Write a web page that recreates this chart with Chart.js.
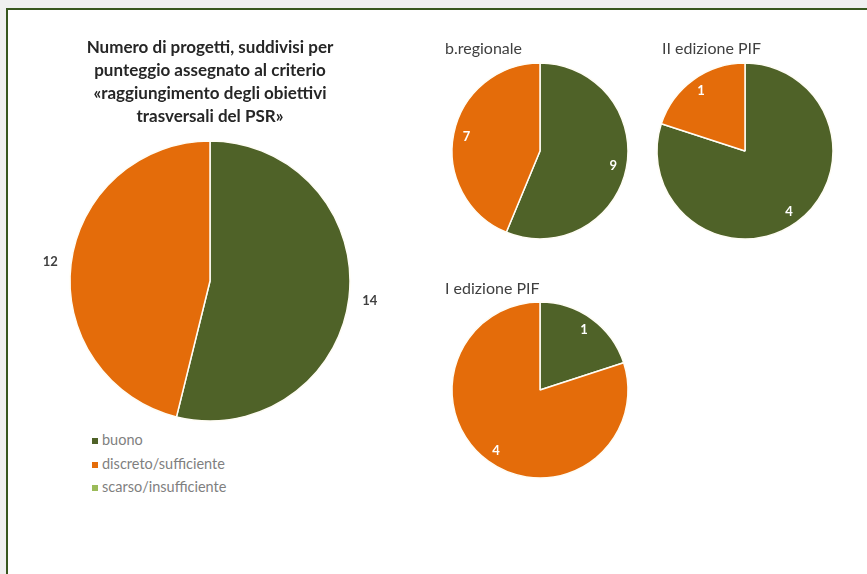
<!DOCTYPE html>
<html lang="it">
<head>
<meta charset="utf-8">
<title>Punteggio criterio obiettivi trasversali PSR</title>
<script src="https://cdn.jsdelivr.net/npm/chart.js@4.4.1/dist/chart.umd.min.js"></script>
<style>
  html, body { margin: 0; padding: 0; width: 867px; height: 574px; overflow: hidden; background: #f0f0f0; }
  #frame {
    position: absolute; left: 6px; top: 8px; right: 0; bottom: 0;
    background: #ffffff;
    border-left: 2px solid #38571f; border-top: 2px solid #38571f;
  }
  .box { position: absolute; }
  #legend {
    position: absolute; left: 92px; top: 430px;
    font-family: Lato, "Open Sans", sans-serif; font-size: 14.5px; color: #7f7f7f;
  }
  #legend .item { height: 23.5px; line-height: 20px; white-space: nowrap; }
  #legend .sw { display: inline-block; width: 6px; height: 6px; margin-right: 4px; vertical-align: 1px; }
</style>
</head>
<body>
<div id="frame"></div>
<div class="box" style="left:40px; top:30px; width:340px; height:394px;"><canvas id="cMain"></canvas></div>
<div class="box" style="left:420px; top:34px; width:240px; height:209px;"><canvas id="cReg"></canvas></div>
<div class="box" style="left:640px; top:34px; width:220px; height:209px;"><canvas id="cPif2"></canvas></div>
<div class="box" style="left:420px; top:274px; width:240px; height:207px;"><canvas id="cPif1"></canvas></div>
<div id="legend"></div>
<script>
// Score classes and their colours
const categories = ['buono', 'discreto/sufficiente', 'scarso/insufficiente'];
const colors = ['#4f6228', '#e46c0a', '#9bbb59'];

// Number of projects per score class
const totale = [14, 12, 0];
const bandoRegionale = [9, 7, 0];
const pif2 = [4, 1, 0];
const pif1 = [1, 4, 0];

const mainTitle = [
  'Numero di progetti, suddivisi per',
  'punteggio assegnato al criterio',
  '\u00abraggiungimento degli obiettivi',
  'trasversali del PSR\u00bb'
];

const FONT = 'Lato, "Open Sans", sans-serif';

// Draws each slice's value, either inside the slice or just outside its edge
const valueLabels = {
  id: 'valueLabels',
  afterDatasetsDraw(chart, args, opts) {
    const ctx = chart.ctx;
    const meta = chart.getDatasetMeta(0);
    const data = chart.data.datasets[0].data;
    ctx.save();
    ctx.font = 'bold 13px ' + FONT;
    ctx.fillStyle = opts.color;
    ctx.textAlign = 'center';
    ctx.textBaseline = 'middle';
    meta.data.forEach((arc, i) => {
      if (!data[i]) return;
      const p = arc.getProps(['x', 'y', 'startAngle', 'endAngle', 'outerRadius'], true);
      const mid = (p.startAngle + p.endAngle) / 2;
      const r = opts.outside ? p.outerRadius + opts.gap : p.outerRadius * opts.factor;
      ctx.fillText(String(data[i]), p.x + Math.cos(mid) * r, p.y + Math.sin(mid) * r);
    });
    ctx.restore();
  }
};

function pie(id, values, radius, title, labelOpts, padding) {
  return new Chart(document.getElementById(id), {
    type: 'pie',
    data: {
      labels: categories,
      datasets: [{
        data: values,
        backgroundColor: colors,
        borderColor: '#fffdf5',
        borderWidth: 1.5,
        clip: false
      }]
    },
    options: {
      responsive: true,
      maintainAspectRatio: false,
      animation: false,
      radius: radius,
      layout: { padding: padding || 0 },
      plugins: {
        legend: { display: false },
        tooltip: { enabled: false },
        title: title,
        valueLabels: labelOpts
      }
    },
    plugins: [valueLabels]
  });
}

const mainChart = pie('cMain', totale, 140, {
  display: true,
  text: mainTitle,
  color: '#262626',
  font: { family: FONT, size: 17, weight: 'bold', lineHeight: 23 / 17 },
  padding: { top: 6, bottom: 10 }
}, { outside: true, gap: 21, color: '#404040' });

const smallTitle = (text) => ({
  display: true,
  text: text,
  align: 'start',
  color: '#404040',
  font: { family: FONT, size: 16, weight: 'normal', lineHeight: 1.25 },
  padding: { top: 5, bottom: 0 }
});
const inside = { outside: false, factor: 0.85, color: '#ffffff' };

// side padding keeps the titles left-aligned while centring each pie
pie('cReg', bandoRegionale, 88, smallTitle('b.regionale'), inside, { left: 25, right: 25 });
pie('cPif2', pif2, 88, smallTitle('II edizione PIF'), inside, { left: 22, right: 32 });
pie('cPif1', pif1, 88, smallTitle('I edizione PIF'), inside, { left: 25, right: 25 });

// Legend list built from the main chart's own legend items
const legendEl = document.getElementById('legend');
Chart.overrides.pie.plugins.legend.labels.generateLabels(mainChart).forEach(item => {
  const row = document.createElement('div');
  row.className = 'item';
  const sw = document.createElement('span');
  sw.className = 'sw';
  sw.style.background = item.fillStyle;
  row.appendChild(sw);
  row.appendChild(document.createTextNode(item.text));
  legendEl.appendChild(row);
});
</script>
</body>
</html>
